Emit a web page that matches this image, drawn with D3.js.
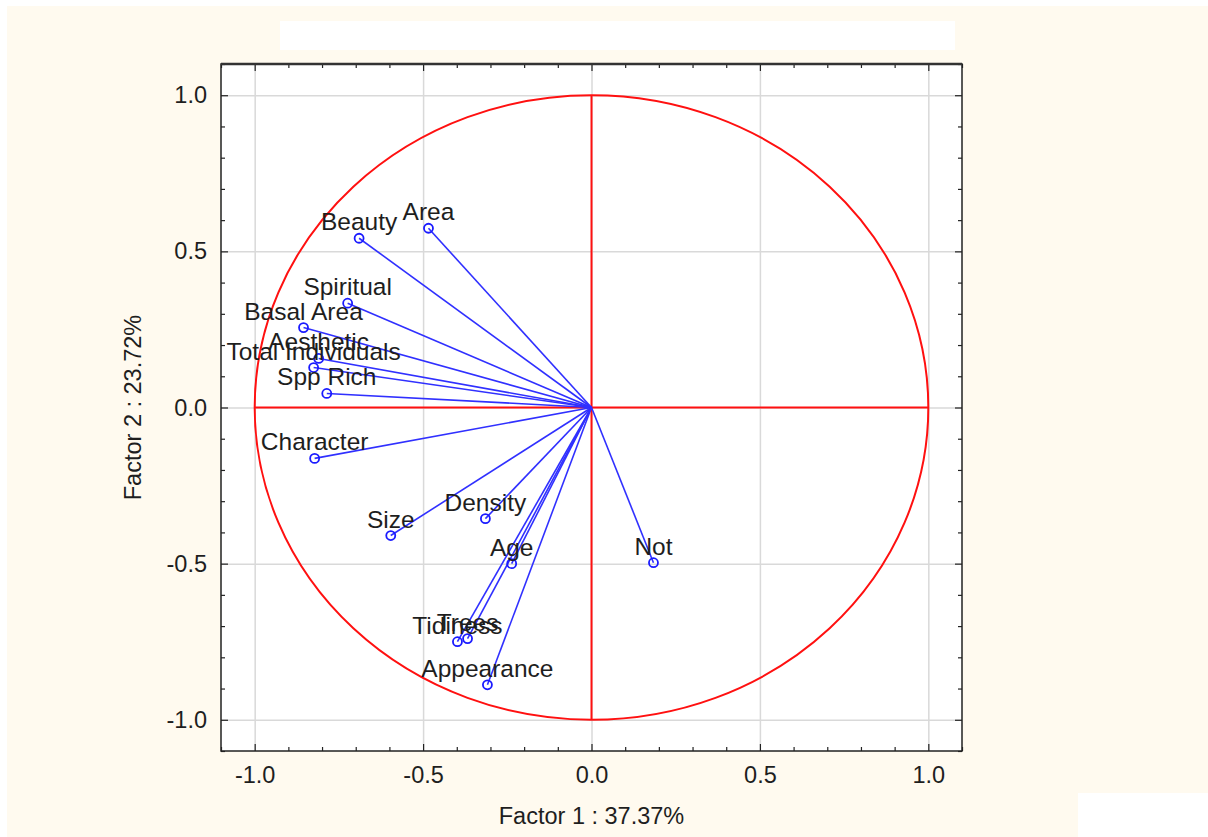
<!DOCTYPE html>
<html>
<head>
<meta charset="utf-8">
<script src="https://cdn.jsdelivr.net/npm/d3@7"></script>
<style>
  html, body { margin: 0; padding: 0; background: #ffffff; }
  svg { display: block; }
  text { font-family: Arial, "Liberation Sans", sans-serif; fill: #1e1e1e; }
</style>
</head>
<body>
<svg id="chart" width="1208" height="837"></svg>
<script>
// Factor loadings of each variable on the first two factors
const variables = ["Beauty", "Area", "Spiritual", "Basal Area", "Aesthetic", "Total Individuals",
                   "Spp Rich", "Character", "Size", "Density", "Age", "Not", "Trees", "Tidiness", "Appearance"];
const factor1 = [-0.690, -0.484, -0.724, -0.855, -0.810, -0.825, -0.786, -0.822, -0.596, -0.315, -0.237, 0.184, -0.368, -0.398, -0.309];
const factor2 = [0.542, 0.574, 0.334, 0.256, 0.157, 0.128, 0.045, -0.163, -0.410, -0.356, -0.500, -0.497, -0.740, -0.750, -0.888];

const majorTicks = [-1.0, -0.5, 0.0, 0.5, 1.0];
const minorTicks = [-1.1, -0.9, -0.8, -0.7, -0.6, -0.4, -0.3, -0.2, -0.1, 0.1, 0.2, 0.3, 0.4, 0.6, 0.7, 0.8, 0.9, 1.1];
const xTitle = "Factor 1 : 37.37%";
const yTitle = "Factor 2 : 23.72%";

const svg = d3.select("#chart");
const W = 1208, H = 837;
const plot = { left: 221, right: 962, top: 64, bottom: 751 };

// page background and blank panels
svg.append("rect").attr("x", 7).attr("y", 6).attr("width", W - 7).attr("height", H - 6).attr("fill", "#fffaef");
svg.append("rect").attr("x", 280).attr("y", 21).attr("width", 675).attr("height", 29).attr("fill", "#ffffff");
svg.append("rect").attr("x", 1078).attr("y", 793).attr("width", W - 1078).attr("height", H - 793).attr("fill", "#ffffff");

const x = d3.scaleLinear().domain([-1.1, 1.1]).range([plot.left, plot.right]);
const y = d3.scaleLinear().domain([-1.1, 1.1]).range([plot.bottom, plot.top]);
const fmt = d => d.toFixed(1);

// plot area
svg.append("rect")
  .attr("x", plot.left).attr("y", plot.top)
  .attr("width", plot.right - plot.left).attr("height", plot.bottom - plot.top)
  .attr("fill", "#ffffff");

// grid
const grid = svg.append("g").attr("class", "grid");
grid.append("g")
  .attr("transform", `translate(0,${plot.bottom})`)
  .call(d3.axisBottom(x).tickValues(majorTicks).tickSize(-(plot.bottom - plot.top)).tickFormat(""))
  .call(g => g.select(".domain").remove())
  .call(g => g.selectAll("line").attr("stroke", "#d9d9d9").attr("stroke-width", 1.5));
grid.append("g")
  .attr("transform", `translate(${plot.left},0)`)
  .call(d3.axisLeft(y).tickValues(majorTicks).tickSize(-(plot.right - plot.left)).tickFormat(""))
  .call(g => g.select(".domain").remove())
  .call(g => g.selectAll("line").attr("stroke", "#d9d9d9").attr("stroke-width", 1.5));

// unit circle and reference axes
const red = svg.append("g").attr("fill", "none").attr("stroke", "#ff1010").attr("stroke-width", 2);
red.append("ellipse")
  .attr("cx", x(0)).attr("cy", y(0))
  .attr("rx", x(1) - x(0)).attr("ry", y(0) - y(1));
red.append("line").attr("x1", x(-1)).attr("x2", x(1)).attr("y1", y(0)).attr("y2", y(0));
red.append("line").attr("x1", x(0)).attr("x2", x(0)).attr("y1", y(-1)).attr("y2", y(1));

// loading vectors
const data = variables.map((name, i) => ({ name, f1: factor1[i], f2: factor2[i] }));
const vec = svg.append("g");
vec.selectAll("line.vector").data(data).join("line")
  .attr("class", "vector")
  .attr("x1", x(0)).attr("y1", y(0))
  .attr("x2", d => x(d.f1)).attr("y2", d => y(d.f2))
  .attr("stroke", "#3030ff").attr("stroke-width", 1.6);
vec.selectAll("circle").data(data).join("circle")
  .attr("cx", d => x(d.f1)).attr("cy", d => y(d.f2)).attr("r", 4.5)
  .attr("fill", "none").attr("stroke", "#1a1aff").attr("stroke-width", 1.8);
vec.selectAll("text").data(data).join("text")
  .attr("x", d => x(d.f1)).attr("y", d => y(d.f2) - 8)
  .attr("text-anchor", "middle")
  .attr("font-size", 24.5)
  .text(d => d.name);

// frame with inward ticks on all four sides
const frame = svg.append("g").attr("class", "frame");
function styleAxis(g) {
  g.select(".domain").remove();
  g.selectAll("line").attr("stroke", "#222").attr("stroke-width", 1.2);
  g.selectAll("text").attr("font-size", 23.5).attr("fill", "#1a1a1a");
}
frame.append("g").attr("transform", `translate(0,${plot.bottom})`)
  .call(d3.axisBottom(x).tickValues(majorTicks).tickSize(-7).tickPadding(15).tickFormat(fmt)).call(styleAxis);
frame.append("g").attr("transform", `translate(0,${plot.bottom})`)
  .call(d3.axisBottom(x).tickValues(minorTicks).tickSize(-4).tickFormat("")).call(styleAxis);
frame.append("g").attr("transform", `translate(${plot.left},0)`)
  .call(d3.axisLeft(y).tickValues(majorTicks).tickSize(-7).tickPadding(14).tickFormat(fmt)).call(styleAxis);
frame.append("g").attr("transform", `translate(${plot.left},0)`)
  .call(d3.axisLeft(y).tickValues(minorTicks).tickSize(-4).tickFormat("")).call(styleAxis);
frame.append("g").attr("transform", `translate(0,${plot.top})`)
  .call(d3.axisTop(x).tickValues(majorTicks).tickSize(-7).tickFormat("")).call(styleAxis);
frame.append("g").attr("transform", `translate(0,${plot.top})`)
  .call(d3.axisTop(x).tickValues(minorTicks).tickSize(-4).tickFormat("")).call(styleAxis);
frame.append("g").attr("transform", `translate(${plot.right},0)`)
  .call(d3.axisRight(y).tickValues(majorTicks).tickSize(-7).tickFormat("")).call(styleAxis);
frame.append("g").attr("transform", `translate(${plot.right},0)`)
  .call(d3.axisRight(y).tickValues(minorTicks).tickSize(-4).tickFormat("")).call(styleAxis);
frame.append("rect")
  .attr("x", plot.left).attr("y", plot.top)
  .attr("width", plot.right - plot.left).attr("height", plot.bottom - plot.top)
  .attr("fill", "none").attr("stroke", "#222").attr("stroke-width", 1.5);
frame.append("line")
  .attr("x1", plot.left).attr("x2", plot.right).attr("y1", plot.top).attr("y2", plot.top)
  .attr("stroke", "#333").attr("stroke-width", 2.5);

// axis titles
svg.append("text")
  .attr("x", (plot.left + plot.right) / 2).attr("y", 824)
  .attr("text-anchor", "middle").attr("font-size", 23.5)
  .text(xTitle);
svg.append("text")
  .attr("transform", `translate(141,${y(0)}) rotate(-90)`)
  .attr("text-anchor", "middle").attr("font-size", 23.5)
  .text(yTitle);
</script>
</body>
</html>
